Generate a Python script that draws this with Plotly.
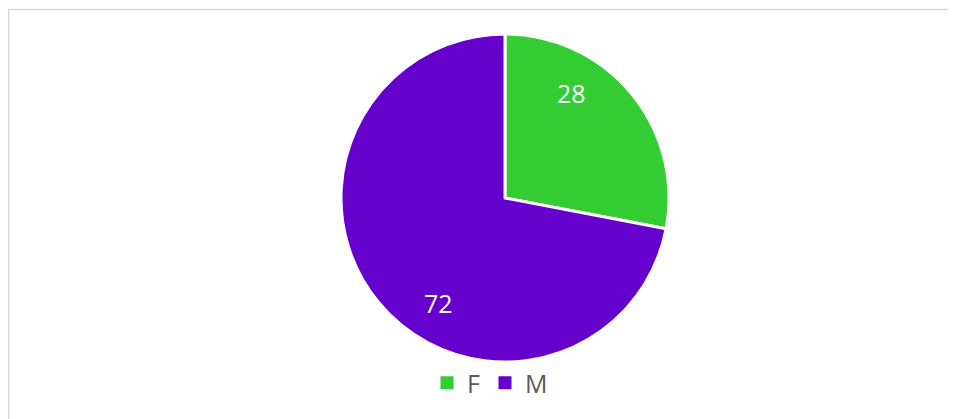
import math
import plotly.graph_objects as go

labels = ["F", "M"]
values = [28, 72]
colors = ["#33CC33", "#6600CC"]

W, H = 956, 419

# pie geometry (figure pixels)
cx, cy, r = 497, 190, 164
dom_y = [1 - (cy + r) / H, 1 - (cy - r) / H]
dom_x = [cx / W - 0.25, cx / W + 0.25]

fig = go.Figure(go.Pie(
    labels=labels,
    values=values,
    sort=False,
    direction="clockwise",
    rotation=0,
    marker=dict(colors=colors, line=dict(color="white", width=3)),
    textinfo="none",
    hoverinfo="label+value",
    showlegend=False,
    domain=dict(x=dom_x, y=dom_y),
))

# legend entries with larger square swatches
for lab, col in zip(labels, colors):
    fig.add_trace(go.Scatter(
        x=[None], y=[None], mode="markers", name=lab,
        marker=dict(symbol="square", size=13, color=col),
        hoverinfo="skip",
    ))

# data labels placed along each slice (angle derived from cumulative values)
total = sum(values)
annotations = []
cum = 0
for v in values:
    mid = (cum + v / 2) / total * 360 - 18
    cum += v
    rad = math.radians(mid)
    px = cx + 0.76 * r * math.sin(rad)
    py = cy - 0.76 * r * math.cos(rad)
    annotations.append(dict(
        x=px / W, y=1 - py / H, xref="paper", yref="paper",
        text=str(v), showarrow=False, xanchor="center", yanchor="middle",
        font=dict(color="white", size=25, family="Open Sans"),
    ))

fig.update_layout(
    width=W, height=H,
    margin=dict(l=0, r=0, t=0, b=0),
    paper_bgcolor="white",
    plot_bgcolor="white",
    showlegend=True,
    annotations=annotations,
    xaxis=dict(visible=False),
    yaxis=dict(visible=False),
    legend=dict(
        orientation="h",
        x=482 / W, xanchor="center",
        y=1 - 375 / H, yanchor="middle",
        font=dict(size=25, color="#595959", family="Open Sans"),
        itemwidth=30,
        bgcolor="rgba(0,0,0,0)",
    ),
    shapes=[
        dict(type="rect", xref="paper", yref="paper",
             x0=0.75 / W, x1=1.2, y0=-0.2, y1=1 - 1.5 / H,
             line=dict(color="#D9D9D9", width=1.5), fillcolor="rgba(0,0,0,0)",
             layer="below"),
    ],
)

fig.write_html("out.html")
